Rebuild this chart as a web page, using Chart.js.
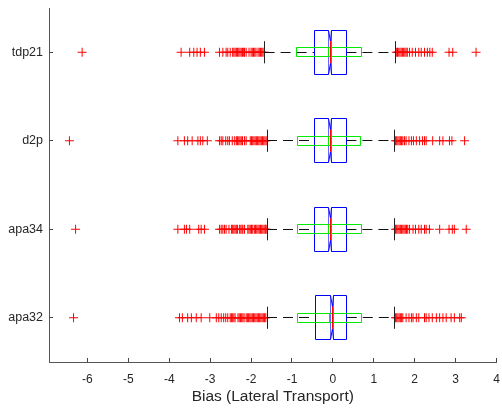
<!DOCTYPE html>
<html>
<head>
<meta charset="utf-8">
<script src="https://cdn.jsdelivr.net/npm/chart.js@4.4.1/dist/chart.umd.min.js"></script>
<style>
    html, body { margin: 0; padding: 0; background: #fff; }
</style>
</head>
<body>
<canvas id="biasChart" width="502" height="409"></canvas>
<script>
const categories = ['tdp21', 'd2p', 'apa34', 'apa32'];
const xTicks = [-6, -5, -4, -3, -2, -1, 0, 1, 2, 3, 4];

// blue (notched) boxes
const blueQ1 = [-0.46, -0.46, -0.46, -0.43];
const blueMedian = [-0.06, -0.06, -0.06, -0.02];
const blueQ3 = [0.33, 0.33, 0.33, 0.34];
const notchLow = [-0.095, -0.095, -0.095, -0.055];
const notchHigh = [-0.025, -0.025, -0.025, 0.015];
const whiskerLow = [-1.67, -1.61, -1.61, -1.61];
const whiskerHigh = [1.53, 1.51, 1.51, 1.51];

// green (narrow) boxes
const greenQ1 = [-0.88, -0.86, -0.87, -0.86];
const greenMedian = [-0.10, -0.10, -0.10, -0.08];
const greenQ3 = [0.69, 0.67, 0.69, 0.69];

// outliers
const outliersTdp21 = [
    -6.13, -3.71, -3.50, -3.40, -3.32, -3.24, -3.14,
    -2.77, -2.69, -2.61, -2.57, -2.51,
    -2.45, -2.42, -2.39, -2.36, -2.33, -2.30, -2.27, -2.24, -2.21, -2.18, -2.16,
    -2.12, -2.05, -2.00, -1.97, -1.94, -1.91, -1.88,
    -1.83, -1.80, -1.77, -1.74, -1.71, -1.68,
    1.55, 1.58, 1.61, 1.64, 1.67, 1.70, 1.73, 1.76, 1.79, 1.82,
    1.875, 1.94, 2.02, 2.10, 2.16, 2.24, 2.31, 2.37, 2.43,
    2.84, 2.93, 3.50,
];
const outliersD2p = [
    -6.44, -3.79, -3.63, -3.55, -3.44, -3.30, -3.24, -3.18, -3.07,
    -2.77, -2.73, -2.69, -2.62, -2.57, -2.53, -2.46, -2.40,
    -2.36, -2.33, -2.30, -2.27, -2.24, -2.21, -2.16, -2.12,
    -2.02, -1.99, -1.96, -1.93, -1.90, -1.87, -1.84, -1.81, -1.78, -1.75, -1.72, -1.69, -1.66, -1.63,
    1.53, 1.56, 1.59, 1.62, 1.65, 1.68, 1.71,
    1.75, 1.79, 1.86, 1.92, 1.97, 2.04, 2.12, 2.19, 2.24, 2.28,
    2.44, 2.61, 2.69, 2.85, 2.91, 3.22,
];
const outliersApa34 = [
    -6.29, -3.79, -3.63, -3.58, -3.50, -3.28, -3.22, -3.14,
    -2.77, -2.73, -2.69, -2.65, -2.61, -2.54, -2.48,
    -2.45, -2.42, -2.39, -2.36, -2.33, -2.28, -2.25, -2.22, -2.20, -2.16,
    -2.08, -2.05, -2.02, -1.99, -1.96,
    -1.92, -1.89, -1.86, -1.83, -1.80, -1.77, -1.74, -1.71, -1.68, -1.65, -1.63,
    1.53, 1.56, 1.59, 1.62, 1.65, 1.68, 1.71, 1.74, 1.77, 1.80, 1.83,
    1.875, 1.96, 2.02, 2.10, 2.16, 2.24, 2.28, 2.36,
    2.61, 2.84, 2.92, 2.97, 3.26,
];
const outliersApa32 = [
    -6.34, -3.75, -3.68, -3.55, -3.46, -3.34, -3.22, -3.01,
    -2.85, -2.79, -2.73, -2.67, -2.62, -2.57, -2.51,
    -2.48, -2.45, -2.42, -2.39, -2.32, -2.29, -2.26, -2.23, -2.20, -2.17,
    -2.12, -2.09, -2.06, -2.03, -2.00, -1.97, -1.94, -1.91, -1.88, -1.85,
    -1.82, -1.79, -1.76, -1.73, -1.70, -1.67, -1.64,
    1.53, 1.56, 1.59, 1.62, 1.65, 1.68, 1.71,
    1.79, 1.86, 1.92, 1.96, 2.04, 2.10,
    2.24, 2.28, 2.35, 2.43, 2.53, 2.61, 2.69, 2.77, 2.89, 2.97, 3.10, 3.14,
];
const outliers = [outliersTdp21, outliersD2p, outliersApa34, outliersApa32];

const FONT = '"Liberation Sans", Arial, Helvetica, sans-serif';

const outlierPoints = [];
outliers.forEach((list, i) => {
    list.forEach(v => outlierPoints.push({ x: v, y: i + 1 }));
});

const crisp = v => Math.round(v - 0.5) + 0.5;

// draws boxes, whiskers and inward tick marks from the chart scales
const boxPlugin = {
    id: 'boxes',
    afterDatasetsDraw(chart) {
        const { ctx, scales: { x, y }, chartArea } = chart;
        const px = v => x.getPixelForValue(v);
        const py = v => y.getPixelForValue(v);

        ctx.save();
        ctx.lineWidth = 1;
        categories.forEach((name, i) => {
            const c = i + 1;
            const yc = crisp(py(c));

            // dashed whiskers
            ctx.strokeStyle = '#111';
            ctx.setLineDash([10, 6]);
            ctx.beginPath();
            ctx.moveTo(px(whiskerLow[i]), yc);
            ctx.lineTo(px(blueQ1[i]), yc);
            ctx.stroke();
            ctx.beginPath();
            ctx.moveTo(px(blueQ3[i]), yc);
            ctx.lineTo(px(whiskerHigh[i]), yc);
            ctx.stroke();
            ctx.setLineDash([]);

            // caps
            ctx.strokeStyle = '#222';
            ctx.beginPath();
            [whiskerLow[i], whiskerHigh[i]].forEach(v => {
                const xx = crisp(px(v));
                ctx.moveTo(xx, py(c - 0.125));
                ctx.lineTo(xx, py(c + 0.125));
            });
            ctx.stroke();

            // blue notched box
            const yT = crisp(py(c - 0.25));
            const yB = crisp(py(c + 0.25));
            const yTn = py(c - 0.125);
            const yBn = py(c + 0.125);
            const q1 = crisp(px(blueQ1[i]));
            const q3 = crisp(px(blueQ3[i]));
            const nlo = crisp(px(notchLow[i]));
            const nhi = crisp(px(notchHigh[i]));
            const med = crisp(px(blueMedian[i]));
            ctx.strokeStyle = 'rgb(0,0,255)';
            ctx.beginPath();
            ctx.moveTo(q1, yT);
            ctx.lineTo(nlo, yT);
            ctx.lineTo(med, yTn);
            ctx.lineTo(nhi, yT);
            ctx.lineTo(q3, yT);
            ctx.lineTo(q3, yB);
            ctx.lineTo(nhi, yB);
            ctx.lineTo(med, yBn);
            ctx.lineTo(nlo, yB);
            ctx.lineTo(q1, yB);
            ctx.closePath();
            ctx.stroke();
            ctx.strokeStyle = 'rgba(0,0,255,0.6)';
            ctx.beginPath();
            ctx.moveTo(nlo, yT);
            ctx.lineTo(nlo, yB);
            ctx.moveTo(nhi, yT);
            ctx.lineTo(nhi, yB);
            ctx.stroke();

            // green narrow box
            const gT = crisp(py(c - 0.053));
            const gB = crisp(py(c + 0.053));
            const g1 = crisp(px(greenQ1[i]));
            const g3 = crisp(px(greenQ3[i]));
            const gm = crisp(px(greenMedian[i]));
            ctx.strokeStyle = 'rgb(0,235,0)';
            ctx.beginPath();
            ctx.rect(g1, gT, g3 - g1, gB - gT);
            ctx.moveTo(gm, gT);
            ctx.lineTo(gm, gB);
            ctx.stroke();

            // red median
            ctx.strokeStyle = 'rgb(255,0,0)';
            ctx.beginPath();
            ctx.moveTo(med, yTn);
            ctx.lineTo(med, yBn);
            ctx.stroke();
        });

        // inward tick marks
        ctx.strokeStyle = '#444';
        ctx.beginPath();
        xTicks.forEach(v => {
            const xx = crisp(px(v));
            ctx.moveTo(xx, chartArea.bottom);
            ctx.lineTo(xx, chartArea.bottom - 4);
        });
        categories.forEach((name, i) => {
            const yy = crisp(py(i + 1));
            ctx.moveTo(chartArea.left, yy);
            ctx.lineTo(chartArea.left + 4, yy);
        });
        ctx.stroke();
        ctx.restore();
    },
};

const config = {
    type: 'scatter',
    data: {
        datasets: [{
            label: 'outliers',
            data: outlierPoints,
            pointStyle: 'cross',
            pointRadius: 4.5,
            borderColor: 'rgb(255,0,0)',
            backgroundColor: 'rgb(255,0,0)',
            borderWidth: 1,
        }],
    },
    options: {
        responsive: false,
        animation: false,
        events: [],
        layout: { padding: { top: 8, right: 5, left: 0, bottom: 0 } },
        plugins: { legend: { display: false }, tooltip: { enabled: false } },
        scales: {
            x: {
                type: 'linear',
                min: -6.94,
                max: 4,
                afterBuildTicks: s => { s.ticks = xTicks.map(v => ({ value: v })); },
                afterFit: s => {
                    s.height = 47;
                    s.paddingLeft = 0;
                    s.paddingRight = 0;
                },
                grid: { display: false, drawTicks: false },
                border: { display: true, color: '#555', width: 1 },
                ticks: {
                    padding: 10,
                    maxRotation: 0,
                    autoSkip: false,
                    color: '#262626',
                    font: { family: FONT, size: 12 },
                },
                title: {
                    display: true,
                    text: 'Bias (Lateral Transport)',
                    color: '#262626',
                    font: { family: FONT, size: 15.5 },
                    padding: { top: 0, bottom: 3 },
                },
            },
            y: {
                type: 'linear',
                reverse: true,
                min: 0.5,
                max: 4.5,
                afterBuildTicks: s => { s.ticks = categories.map((c, i) => ({ value: i + 1 })); },
                afterFit: s => {
                    s.width = 49;
                    s.paddingTop = 0;
                    s.paddingBottom = 0;
                },
                grid: { display: false, drawTicks: false },
                border: { display: true, color: '#555', width: 1 },
                ticks: {
                    padding: 6,
                    autoSkip: false,
                    color: '#262626',
                    font: { family: FONT, size: 12.5 },
                    callback: v => categories[v - 1],
                },
            },
        },
    },
    plugins: [boxPlugin],
};

const biasChart = new Chart(document.getElementById('biasChart'), config);
</script>
</body>
</html>
